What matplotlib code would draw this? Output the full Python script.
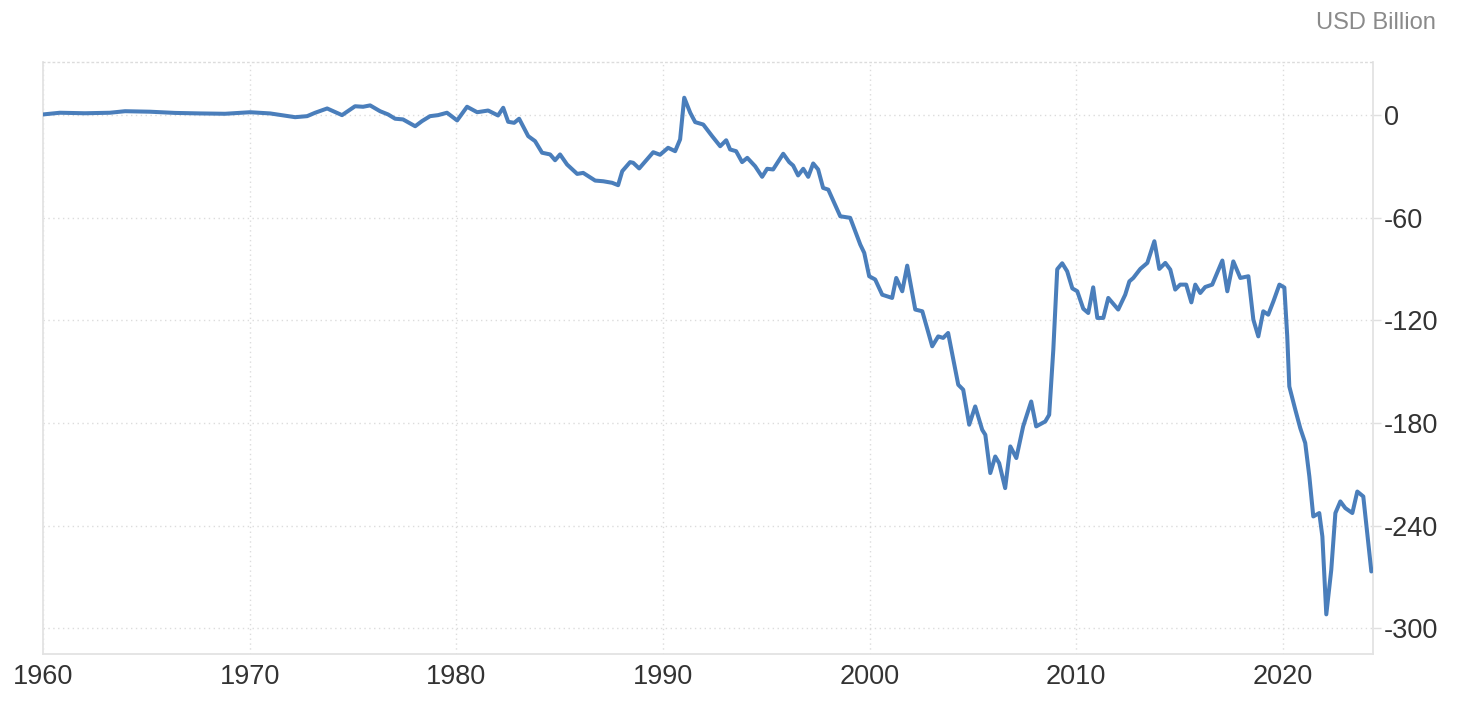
import matplotlib
matplotlib.use("Agg")
import matplotlib.pyplot as plt

# time (decimal year) and balance (USD Billion)
years = [
    1960.00, 1960.82, 1962.03, 1963.24, 1963.97, 1965.18, 1966.39, 1967.60, 1968.81, 1970.02,
    1970.99, 1972.20, 1972.78, 1973.17, 1973.75, 1974.47, 1975.10, 1975.49, 1975.83, 1976.31,
    1976.70, 1977.04, 1977.42, 1978.01, 1978.34, 1978.73, 1979.12, 1979.55, 1980.04, 1980.52,
    1981.01, 1981.54, 1982.02, 1982.27, 1982.51, 1982.80, 1983.04, 1983.48, 1983.81, 1984.15,
    1984.54, 1984.78, 1985.02, 1985.36, 1985.85, 1986.14, 1986.72, 1987.11, 1987.54, 1987.83,
    1988.03, 1988.41, 1988.56, 1988.85, 1989.53, 1989.86, 1990.25, 1990.59, 1990.83, 1991.03,
    1991.32, 1991.56, 1991.95, 1992.38, 1992.77, 1993.06, 1993.25, 1993.54, 1993.83, 1994.08,
    1994.46, 1994.80, 1995.04, 1995.33, 1995.82, 1996.11, 1996.30, 1996.54, 1996.79, 1997.03,
    1997.27, 1997.51, 1997.75, 1998.00, 1998.58, 1999.06, 1999.55, 1999.74, 1999.98, 2000.27,
    2000.61, 2001.09, 2001.29, 2001.58, 2001.82, 2002.21, 2002.55, 2003.03, 2003.32, 2003.56,
    2003.80, 2004.29, 2004.53, 2004.82, 2005.11, 2005.45, 2005.60, 2005.84, 2006.08, 2006.27,
    2006.56, 2006.81, 2007.10, 2007.43, 2007.82, 2008.06, 2008.50, 2008.69, 2008.89, 2009.08,
    2009.32, 2009.56, 2009.81, 2010.05, 2010.34, 2010.58, 2010.82, 2011.02, 2011.31, 2011.55,
    2012.03, 2012.37, 2012.57, 2012.76, 2013.10, 2013.44, 2013.78, 2014.02, 2014.31, 2014.55,
    2014.79, 2015.03, 2015.32, 2015.57, 2015.76, 2016.00, 2016.24, 2016.58, 2017.07, 2017.31,
    2017.60, 2017.94, 2018.33, 2018.57, 2018.81, 2019.05, 2019.29, 2019.54, 2019.83, 2020.07,
    2020.21, 2020.31, 2020.60, 2020.84, 2021.08, 2021.28, 2021.47, 2021.76, 2021.91, 2022.10,
    2022.34, 2022.54, 2022.78, 2023.02, 2023.36, 2023.60, 2023.89, 2024.28,
]
balance = [
    0.6, 1.6, 1.3, 1.6, 2.5, 2.2, 1.5, 1.2, 1.0, 1.9,
    1.2, -1.0, -0.4, 1.6, 4.1, 0.2, 5.4, 5.1, 5.9, 2.5,
    0.6, -1.9, -2.3, -6.3, -3.3, -0.4, 0.2, 1.6, -2.9, 5.1,
    1.9, 2.9, 0.0, 4.5, -3.7, -4.3, -1.9, -12.1, -15.0, -21.8,
    -22.8, -26.2, -22.8, -28.7, -34.2, -33.6, -38.1, -38.5, -39.4, -40.8,
    -32.6, -27.3, -27.7, -31.0, -21.5, -23.0, -18.9, -20.9, -14.0, 10.4,
    1.6, -3.9, -5.3, -12.1, -18.0, -14.5, -19.9, -20.9, -27.3, -24.8,
    -29.7, -35.9, -31.2, -31.6, -22.4, -27.3, -29.3, -35.1, -31.2, -35.9,
    -28.1, -31.6, -42.4, -43.4, -59.0, -59.9, -75.6, -80.4, -94.1, -96.0,
    -104.9, -106.8, -95.1, -102.9, -87.9, -113.6, -114.6, -135.1, -129.3, -130.2,
    -127.3, -157.6, -160.5, -181.0, -170.3, -184.0, -186.9, -209.3, -199.6, -203.5,
    -218.1, -193.7, -200.5, -182.0, -167.4, -182.0, -179.1, -175.2, -137.1, -90.0,
    -86.5, -91.2, -101.2, -102.9, -113.1, -115.6, -100.6, -118.5, -118.5, -106.8,
    -113.6, -104.9, -97.1, -95.1, -89.8, -86.3, -73.6, -89.8, -86.3, -90.2,
    -101.9, -99.0, -99.0, -109.4, -99.0, -103.9, -100.4, -99.0, -84.9, -102.9,
    -85.4, -95.1, -94.1, -119.5, -129.3, -114.6, -116.6, -108.8, -99.0, -100.7,
    -129.3, -158.6, -172.2, -183.0, -191.7, -211.3, -234.7, -232.7, -246.4, -292.0,
    -266.0, -232.7, -225.9, -229.8, -232.7, -220.1, -223.0, -266.9,
]

decades = [1960, 1970, 1980, 1990, 2000, 2010, 2020]
levels = [0, -60, -120, -180, -240, -300]

plt.rcParams['font.family'] = ['Liberation Sans', 'DejaVu Sans']

fig = plt.figure(figsize=(14.64, 7.04), dpi=100)
ax = fig.add_axes([43 / 1464, 1 - 654 / 704, 1330 / 1464, 592 / 704])

ax.plot(years, balance, color='#4a7ebb', linewidth=2.9, solid_joinstyle='round',
        solid_capstyle='round', zorder=3)

ax.set_xlim(1960, 2024.36)
ax.set_ylim(-315.2, 31.3)

ax.set_xticks(decades)
ax.set_xticklabels([str(d) for d in decades])
ax.set_yticks(levels)
ax.set_yticklabels([str(v) for v in levels])

ax.yaxis.tick_right()
ax.tick_params(axis='x', length=0, pad=7, labelsize=19.5, labelcolor='#333333')
ax.tick_params(axis='y', length=6, width=1, color='#e0e0e0', pad=2,
               labelsize=19.5, labelcolor='#333333')

ax.grid(True, linestyle=(0, (1, 2.5)), color='#dcdcdc', linewidth=1)
ax.set_axisbelow(True)

for side in ['left', 'bottom', 'right']:
    ax.spines[side].set_color('#e3e3e3')
    ax.spines[side].set_linewidth(1.3)
ax.spines['top'].set_linestyle((0, (1, 2.5)))
ax.spines['top'].set_color('#dcdcdc')
ax.spines['top'].set_linewidth(1)

fig.text(1436 / 1464, 1 - 23 / 704, 'USD Billion', ha='right', va='center',
         fontsize=17, color='#8a8a8a')

fig.savefig('out.png', dpi=100)
